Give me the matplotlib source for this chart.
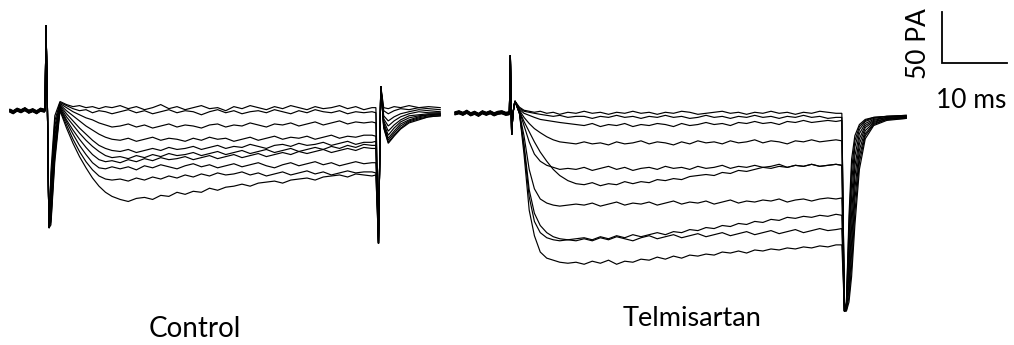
import matplotlib
matplotlib.use("Agg")
import matplotlib.pyplot as plt

# ---------------- Control recordings (current in pA, time in ms from pulse onset) ----------------
ctrl_pre_t = [-5.7, -5.2, -4.6, -4.0, -3.4, -2.8, -2.2, -1.6, -1.0, -0.4]
ctrl_pre_v = [0, -1.5, 1, -0.5, 1.5, -1, 0.5, -1.5, 1, 0]
ctrl_pre_shift = [1.0, -1.0, 0.5, -0.5, 1.5, -1.5, 0.0, 1.0, -1.0, 0.5]

ctrl_on_t = [-0.3, -0.15, 0.05, 0.3]
ctrl_on_v = [0, 84, 10, -115]

ctrl_t = [0.6, 1.2, 2, 3, 4, 5, 6, 7, 8, 9, 10,
          11.25, 12.5, 13.75, 15, 16.25, 17.5, 18.75, 20, 21.25, 22.5, 23.75,
          25, 26.25, 27.5, 28.75, 30, 31.25, 32.5, 33.75, 35, 36.25, 37.5,
          38.75, 40, 41.25, 42.5, 43.75, 45, 46.25, 47.5, 48.75, 50, 50.6]
ctrl_currents = [
    [-60, -5, 9, 6, 4, 5, 3, 4, 2, 4, 3,
     5, 2, 4, 1, 3, 6, 2, 4, 1, 3, 5, 2, 3, 0, 4, 2, 5, 3, 1, 4, 2, 5, 3, 1, 4, 2, 3, 5, 2, 4, 1, 3, 3],
    [-70, -10, 8, 5, 2, 0, 1, -2, 0, -1, -3,
     -1, 1, -2, 0, -3, -1, 1, -2, 0, -1, -4, -1, 1, -2, 0, -3, -1, 0, -2, 1, -1, -3, 0, -2, 1, -1, -2, 0, -3, -1, -2, -1, -2],
    [-80, -15, 7, 3, -1, -4, -7, -9, -12, -14, -16,
     -15, -13, -16, -14, -17, -15, -13, -16, -14, -15, -17, -14, -13, -16, -14, -15, -12, -14, -16, -13, -14, -12, -15, -13, -11, -14, -12, -10, -13, -11, -12, -11, -12],
    [-90, -20, 6, 0, -5, -10, -15, -19, -23, -26, -28,
     -29, -27, -30, -28, -26, -29, -27, -28, -30, -27, -29, -26, -28, -27, -30, -28, -26, -29, -27, -25, -28, -26, -27, -25, -28, -26, -24, -27, -25, -26, -24, -24, -25],
    [-95, -25, 5, -3, -10, -17, -23, -29, -34, -37, -39,
     -40, -38, -41, -39, -37, -39, -36, -38, -37, -35, -38, -36, -34, -37, -35, -36, -33, -35, -37, -34, -33, -35, -32, -34, -33, -31, -34, -32, -30, -33, -31, -31, -30],
    [-100, -30, 4, -6, -14, -22, -29, -35, -40, -44, -46,
     -45, -47, -44, -46, -43, -45, -42, -44, -43, -41, -44, -42, -40, -43, -41, -39, -42, -40, -38, -41, -39, -37, -40, -38, -36, -38, -35, -37, -34, -36, -33, -34, -34],
    [-103, -35, 3, -9, -19, -28, -36, -43, -48, -50, -49,
     -51, -48, -50, -47, -49, -46, -48, -47, -45, -48, -46, -44, -47, -45, -43, -46, -44, -42, -45, -43, -41, -43, -40, -42, -40, -38, -41, -39, -37, -39, -36, -37, -37],
    [-106, -40, 2, -11, -23, -34, -43, -51, -56, -57, -55,
     -57, -55, -58, -54, -56, -53, -55, -57, -54, -52, -55, -53, -56, -54, -52, -55, -53, -51, -54, -56, -53, -51, -54, -52, -50, -53, -51, -54, -52, -50, -52, -51, -51],
    [-109, -45, 1, -14, -28, -40, -50, -58, -64, -67, -68,
     -67, -69, -66, -68, -65, -67, -64, -66, -63, -65, -62, -64, -61, -63, -62, -60, -63, -61, -64, -62, -60, -63, -61, -59, -62, -60, -63, -61, -59, -61, -60, -60, -61],
    [-112, -50, 0, -17, -32, -45, -56, -66, -74, -80, -84,
     -87, -89, -86, -85, -87, -83, -84, -80, -82, -79, -80, -76, -78, -75, -74, -72, -74, -71, -70, -69, -71, -68, -67, -66, -68, -65, -64, -63, -65, -62, -63, -64, -63],
]

ctrl_off_t = [51.0, 51.35]
ctrl_off_v = [-130, 24]

ctrl_tail_t = [51.8, 52.5, 53.4, 54.4, 55.7, 57.2, 58.7, 60.5]
ctrl_tails = [
    [3, 2, 4, 3, 5, 3, 4, 3],
    [0, -3, 0, 2, 1, 3, 2, 1],
    [-5, -10, -6, -3, -1, 1, 0, -1],
    [-8, -15, -10, -6, -3, -1, -2, -2],
    [-10, -20, -14, -9, -5, -4, -3, -3],
    [-12, -24, -17, -11, -7, -5, -4, -3],
    [-14, -27, -20, -13, -9, -6, -4, -4],
    [-15, -29, -22, -15, -10, -7, -5, -4],
    [-16, -31, -24, -17, -11, -8, -6, -5],
    [-17, -32, -25, -18, -12, -9, -6, -5],
]

# ---------------- Telmisartan recordings ----------------
tel_pre_t = [-8.6, -8.0, -7.4, -6.8, -6.2, -5.6, -5.0, -4.4, -3.8, -3.2,
             -2.6, -2.0, -1.4, -0.8, -0.3]
tel_pre_v = [0, 1, -0.5, 1.5, -1, 0.5, -1.5, 1, -0.5, 1, -1, 0.5, 1, -0.5, 0]
tel_pre_shift = [1.0, -1.0, 0.5, -0.5, 1.5, -1.5, 0.0, 1.0, -1.0, 0.5]

tel_on_t = [-0.25, -0.1, 0.1, 0.3]
tel_on_v = [0, 57, -21, 0]

tel_t = [0.6, 1.3, 2, 2.8, 3.6, 4.5, 5.5, 6.5, 7.5, 8.75, 10,
         11.25, 12.5, 13.75, 15, 16.25, 17.5, 18.75, 20, 21.25, 22.5, 23.75,
         25, 26.25, 27.5, 28.75, 30, 31.25, 32.5, 33.75, 35, 36.25, 37.5,
         38.75, 40, 41.25, 42.5, 43.75, 45, 46.25, 47.5, 48.75, 50, 50.9]
tel_currents = [
    [12, 6, 3, 2, 1, 2, 0, 1, -1, 1, 0,
     2, 0, 1, -1, 1, 0, 2, 0, 1, -1, 1, 0, 2, 1, -1, 0, 1, 2, 0, 1, -1, 1, 0, 2, 0, 1, -1, 1, 0, 2, 1, 0, 0],
    [12, 5, 2, 1, 0, -1, -2, -3, -2, -4, -3,
     -3, -5, -3, -4, -2, -4, -3, -5, -3, -4, -2, -4, -3, -5, -4, -2, -4, -3, -5, -3, -4, -2, -4, -3, -5, -3, -4, -2, -4, -3, -5, -4, -4],
    [12, 4, 0, -2, -4, -6, -7, -8, -9, -10, -11,
     -12, -10, -13, -11, -12, -10, -13, -11, -12, -10, -11, -13, -10, -12, -11, -9, -11, -10, -12, -9, -10, -8, -10, -9, -11, -8, -9, -7, -9, -8, -7, -8, -7],
    [12, 3, -4, -10, -15, -19, -23, -26, -28, -29, -30,
     -28, -30, -29, -31, -28, -30, -29, -27, -30, -28, -29, -31, -28, -30, -27, -29, -28, -30, -27, -29, -28, -26, -29, -27, -28, -30, -27, -28, -26, -28, -27, -26, -27],
    [12, 2, -12, -28, -40, -47, -51, -53, -55, -54, -55,
     -53, -56, -54, -52, -55, -53, -56, -54, -53, -55, -52, -54, -53, -55, -52, -54, -53, -51, -54, -52, -53, -51, -53, -52, -50, -53, -51, -52, -50, -52, -51, -50, -51],
    [12, 2, -8, -18, -28, -38, -47, -55, -61, -66, -69,
     -70, -68, -71, -69, -70, -67, -69, -67, -68, -65, -66, -64, -65, -62, -61, -60, -61, -58, -59, -56, -57, -55, -53, -54, -52, -53, -51, -52, -50, -52, -51, -50, -51],
    [12, 0, -22, -55, -74, -84, -88, -90, -91, -90, -89,
     -90, -88, -91, -89, -87, -90, -88, -89, -87, -90, -88, -86, -89, -87, -88, -86, -89, -87, -85, -88, -86, -87, -85, -86, -84, -87, -85, -84, -86, -84, -83, -84, -83],
    [12, 0, -30, -75, -98, -110, -117, -121, -123, -124, -123,
     -122, -124, -121, -123, -120, -122, -119, -121, -119, -117, -119, -116, -117, -114, -115, -112, -113, -110, -111, -108, -109, -106, -107, -104, -105, -102, -103, -101, -102, -100, -101, -99, -100],
    [12, 0, -34, -82, -106, -117, -122, -124, -125, -124, -125,
     -123, -125, -122, -124, -121, -123, -125, -122, -120, -123, -121, -119, -122, -120, -118, -121, -119, -117, -120, -118, -116, -119, -117, -115, -118, -116, -114, -117, -115, -113, -115, -114, -113],
    [12, 0, -40, -95, -120, -136, -142, -144, -146, -147, -146,
     -148, -145, -147, -144, -148, -145, -146, -143, -144, -141, -143, -140, -142, -139, -140, -138, -139, -136, -137, -135, -137, -134, -135, -133, -134, -132, -133, -131, -132, -130, -131, -129, -129],
]

tel_off_t = [51.3]
tel_off_v = [-194]

tel_tail_t = [51.6, 52.0, 52.4, 52.9, 53.6, 54.5, 55.8, 57.8, 60.8]
tel_tails = [
    [-185, -100, -45, -22, -11, -6, -4, -3, -2],
    [-186, -110, -55, -27, -13, -7, -4, -3, -2],
    [-187, -122, -68, -33, -16, -8, -5, -3, -3],
    [-188, -135, -82, -42, -20, -10, -6, -4, -3],
    [-189, -148, -98, -52, -25, -12, -7, -4, -3],
    [-190, -158, -112, -62, -30, -14, -8, -5, -4],
    [-191, -167, -126, -74, -36, -17, -9, -5, -4],
    [-192, -174, -138, -85, -42, -20, -10, -6, -4],
    [-193, -180, -150, -98, -48, -22, -11, -6, -5],
    [-194, -185, -160, -110, -55, -25, -12, -7, -5],
]

panel_labels = ["Control", "Telmisartan"]
scale_ms = 10
scale_pa = 50

# ---------------- layout ----------------
W, H = 1014, 345
PX_PER_MS = 6.5
PX_PER_PA = 1.02
BASE_Y = 110.7                      # pixel row of the control holding level
ctrl_x0 = 47 / PX_PER_MS            # pulse onset of the control panel (ms on the canvas)
tel_x0 = 511 / PX_PER_MS            # pulse onset of the Telmisartan panel
tel_y0 = -(113.3 - BASE_Y) / PX_PER_PA

fig = plt.figure(figsize=(W / 100, H / 100), dpi=100)
ax = fig.add_axes([0, 0, 1, 1])
ax.set_xlim(0, W / PX_PER_MS)
ax.set_ylim(-(H - BASE_Y) / PX_PER_PA, BASE_Y / PX_PER_PA)
ax.axis("off")

LW = 0.85


def draw_panel(x0, y0, pre_t, pre_v, pre_shift, on_t, on_v, t, currents,
               off_t, off_v, tail_t, tails):
    for i, cur in enumerate(currents):
        ts = list(pre_t) + list(on_t) + list(t) + list(off_t) + list(tail_t)
        vs = ([v + pre_shift[i] for v in pre_v] + list(on_v) + list(cur)
              + list(off_v) + list(tails[i]))
        ax.plot([x0 + a for a in ts], [y0 + b for b in vs], color="black",
                lw=LW, solid_joinstyle="miter")


draw_panel(ctrl_x0, 0.0, ctrl_pre_t, ctrl_pre_v, ctrl_pre_shift, ctrl_on_t,
           ctrl_on_v, ctrl_t, ctrl_currents, ctrl_off_t, ctrl_off_v,
           ctrl_tail_t, ctrl_tails)
draw_panel(tel_x0, tel_y0, tel_pre_t, tel_pre_v, tel_pre_shift, tel_on_t,
           tel_on_v, tel_t, tel_currents, tel_off_t, tel_off_v,
           tel_tail_t, tel_tails)

# scale bar
sb_x = 942 / PX_PER_MS
sb_y = (BASE_Y - 63) / PX_PER_PA
ax.plot([sb_x, sb_x, sb_x + scale_ms], [sb_y + scale_pa, sb_y, sb_y],
        color="black", lw=1.3, solid_joinstyle="miter")

font = "Lato"
ax.text(919 / PX_PER_MS, (BASE_Y - 44) / PX_PER_PA, f"{scale_pa} PA",
        rotation=90, ha="center", va="center", fontsize=19, family=font)
ax.text(971 / PX_PER_MS, (BASE_Y - 101) / PX_PER_PA, f"{scale_ms} ms",
        ha="center", va="center", fontsize=19, family=font)
ax.text(195 / PX_PER_MS, (BASE_Y - 329) / PX_PER_PA, panel_labels[0],
        ha="center", va="center", fontsize=20, family=font)
ax.text(692 / PX_PER_MS, (BASE_Y - 319) / PX_PER_PA, panel_labels[1],
        ha="center", va="center", fontsize=19.5, family=font)

fig.savefig("out.png", dpi=100, facecolor="white")
